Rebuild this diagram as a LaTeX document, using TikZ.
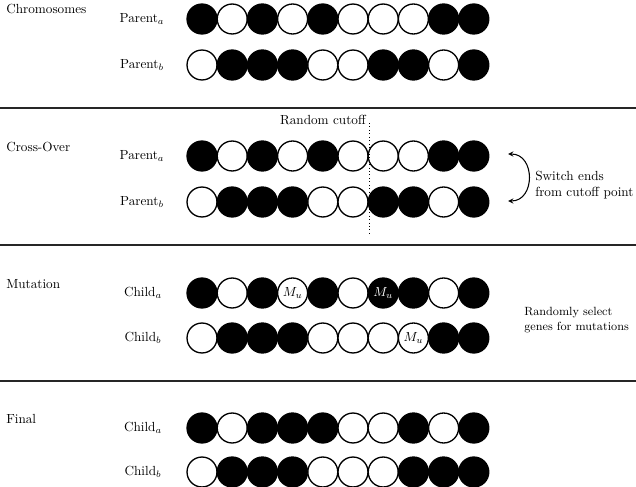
\documentclass[tikz,border=0pt]{standalone}
\usepackage{amsmath}
\usepackage{tikz}
\usetikzlibrary{positioning,calc,arrows.meta}

\begin{document}
\begin{tikzpicture}[x=0.7576pt,y=-0.7576pt,
  gene/.style={circle,draw,line width=1pt,minimum size=22.7pt,inner sep=0pt},
  lbl/.style={inner sep=0pt},
  sep/.style={line width=0.8pt,black!85}]

\useasboundingbox (0,0) rectangle (636,487);

%\draw[help lines, gray!30] (0,0) grid[step=50] (636,487);

% Chromosomes
\node[lbl,anchor=base west] (sec1) at (6,14) {Chromosomes};
\node (lcpa) at (142,19) {Parent$_a$};
\node (lcpb) at (142,65) {Parent$_b$};
\foreach \col [count=\i] in {black,white,black,white,black,white,white,white,black,black}
  \node[gene,fill=\col] (cpa\i) at ({171.8+30.2*\i},19) {};
\foreach \col [count=\i] in {white,black,black,black,white,white,black,black,white,black}
  \node[gene,fill=\col] (cpb\i) at ({171.8+30.2*\i},65) {};

\draw[sep] (0,108) -- (636,108);

% Cross-Over
\node[lbl,anchor=base west] (sec2) at (6,151) {Cross-Over};
\node (lxpa) at (142,156) {Parent$_a$};
\node (lxpb) at (142,202) {Parent$_b$};
\foreach \col [count=\i] in {black,white,black,white,black,white,white,white,black,black}
  \node[gene,fill=\col] (xpa\i) at ({171.8+30.2*\i},156) {};
\foreach \col [count=\i] in {white,black,black,black,white,white,black,black,white,black}
  \node[gene,fill=\col] (xpb\i) at ({171.8+30.2*\i},202) {};

\node[lbl,anchor=base east] (cut) at (366,125) {Random cutoff};
\coordinate (cuttop) at (369,123);
\coordinate (cutbot) at (369,233);
\draw[dotted,line width=0.6pt] (cuttop) -- (cutbot);

\coordinate (swtop) at (508,154);
\coordinate (swbot) at (508,201);
\draw[stealth-stealth,line width=0.8pt] (swtop) to[out=0,in=0,looseness=1.5] (swbot);
\node[lbl,anchor=west,align=left] (sw) at (535,185) {Switch ends\\from cutoff point};

\draw[sep] (0,245) -- (636,245);

% Mutation
\node[lbl,anchor=base west] (sec3) at (6,288) {Mutation};
\node (lmca) at (143,293) {Child$_a$};
\node (lmcb) at (143,338) {Child$_b$};
\foreach \col [count=\i] in {black,white,black,white,black,white,black,black,white,black}
  \node[gene,fill=\col] (mca\i) at ({171.8+30.2*\i},293) {};
\foreach \col [count=\i] in {white,black,black,black,white,white,white,white,black,black}
  \node[gene,fill=\col] (mcb\i) at ({171.8+30.2*\i},338) {};
\node (mu1) at (mca4) {$M_u$};
\node[text=white] (mu2) at (mca7) {$M_u$};
\node (mu3) at (mcb8) {$M_u$};

\node[lbl,anchor=west,align=left,font=\small] (rs) at (524,320) {Randomly select\\genes for mutations};

\draw[sep] (0,381) -- (636,381);

% Final
\node[lbl,anchor=base west] (sec4) at (6,423) {Final};
\node (lfca) at (143,428) {Child$_a$};
\node (lfcb) at (143,472) {Child$_b$};
\foreach \col [count=\i] in {black,white,black,black,black,white,white,black,white,black}
  \node[gene,fill=\col] (fca\i) at ({171.8+30.2*\i},428) {};
\foreach \col [count=\i] in {white,black,black,black,white,white,white,black,black,black}
  \node[gene,fill=\col] (fcb\i) at ({171.8+30.2*\i},472) {};

\end{tikzpicture}
\end{document}
